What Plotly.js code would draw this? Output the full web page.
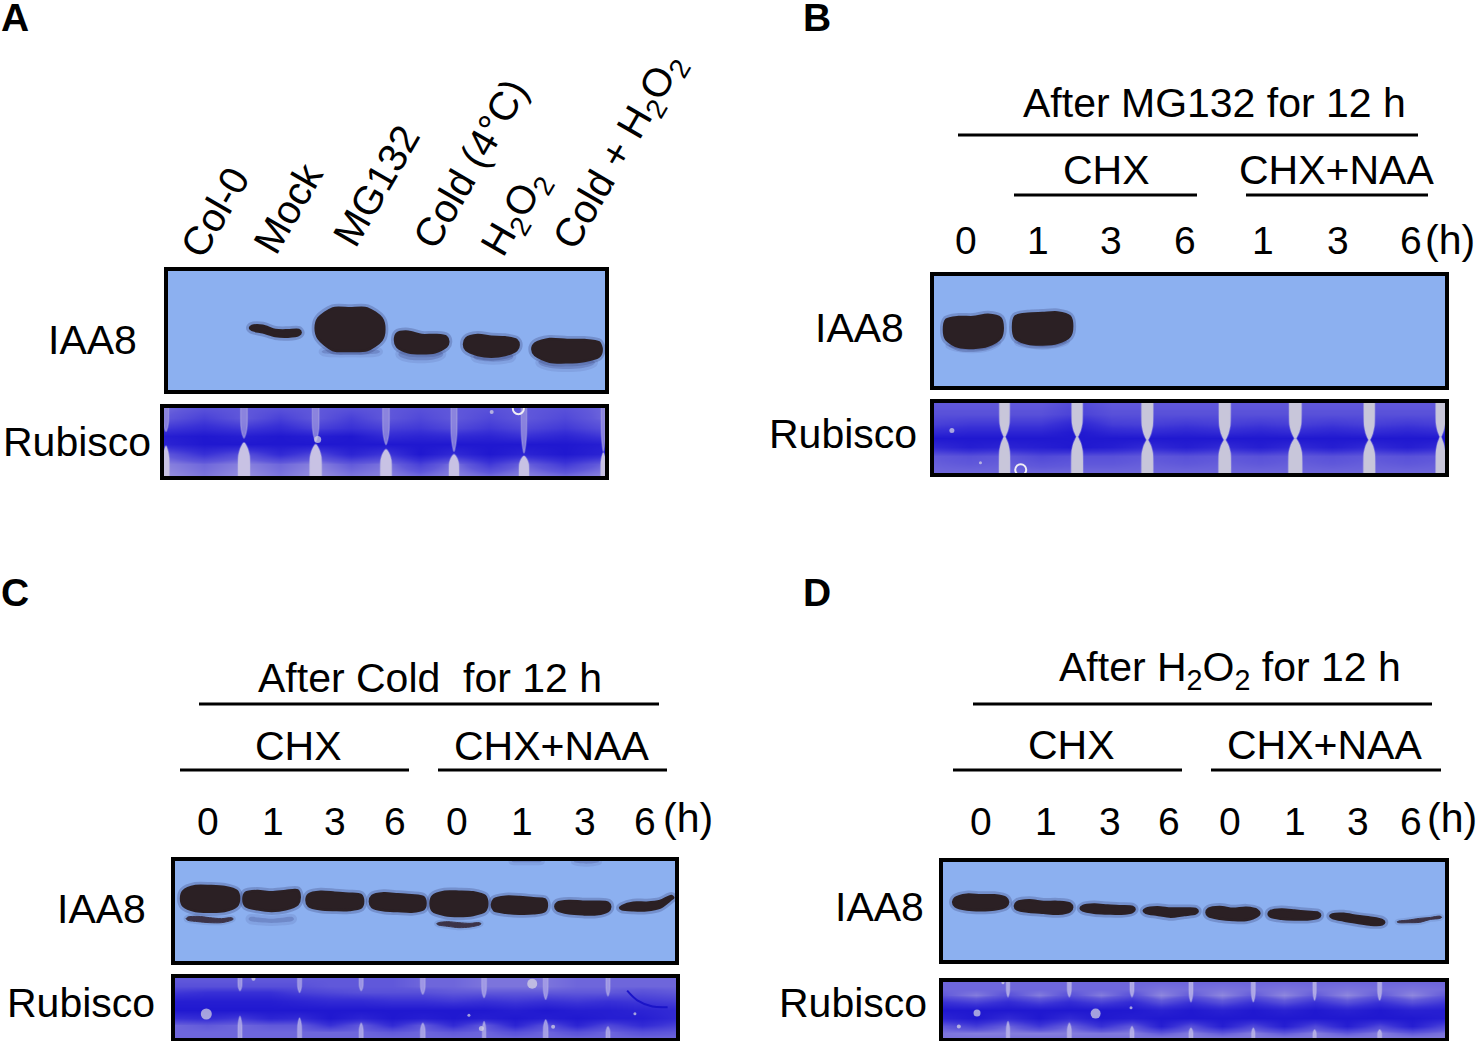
<!DOCTYPE html>
<html>
<head>
<meta charset="utf-8">
<script src="https://cdn.plot.ly/plotly-3.0.1.min.js"></script>
<style>body { margin: 0; background: #fff; }</style>
</head>
<body>
<div id="graph" style="width:1476px;height:1041px;"></div>
<script>
/* ----- Values (gel units: x along the gel, y down the gel) ------- */

// IAA8 bands: left end, right end, upper edge and lower edge at five points
const bandLeftA = [300, 497, 735, 942, 1147];
const bandRightA = [452, 703, 895, 1106, 1355];
const bandTopA = [[213,212,225,226,225], [190,160,160,160,190], [235,230,240,240,245], [250,240,245,247,255], [265,252,255,255,262]];
const bandBottomA = [[225,232,243,245,240], [250,285,288,285,255], [275,292,295,292,275], [285,300,305,300,285], [300,320,322,318,305]];
// faint shadows of the film around the strong bands
const ghostLeftA = [515, 745, 970, 1165];
const ghostRightA = [690, 880, 1090, 1335];
const ghostTopA = [[285,285,285,285,285], [290,290,292,292,290], [298,298,300,300,298], [315,318,318,316,315]];
const ghostBottomA = [[295,298,298,298,295], [305,314,316,314,305], [312,318,320,318,312], [330,340,342,340,330]];

const bandLeftB = [67, 268];
const bandRightB = [238, 440];
const bandTopB = [[180,172,172,165,175], [170,162,160,158,170]];
const bandBottomB = [[240,262,265,258,235], [235,252,255,250,230]];
const ghostLeftB = [80, 280];
const ghostRightB = [225, 425];
const ghostTopB = [[255,258,260,255,245], [245,250,252,248,240]];
const ghostBottomB = [[262,270,272,268,255], [252,258,262,258,250]];

const bandLeftC = [60, 245, 432, 620, 800, 982, 1170, 1362];
const bandRightC = [232, 412, 600, 785, 968, 1145, 1333, 1520];
const bandTopC = [[120,105,105,108,120], [125,120,124,120,118], [130,122,125,128,132], [135,127,130,133,138], [135,122,122,124,135], [145,137,138,142,145], [155,150,152,152,155], [165,155,155,150,135]];
const bandBottomC = [[165,180,182,180,165], [165,175,180,175,160], [165,175,177,177,170], [168,178,180,182,175], [180,192,195,192,180], [178,185,188,187,180], [178,187,190,190,180], [175,178,178,170,145]];
// the weaker lower band in two lanes of C
const lowerLeftC = [75, 818];
const lowerRightC = [215, 950];
const lowerTopC = [[198,196,200,203,200], [215,212,215,217,215]];
const lowerBottomC = [[208,212,215,215,208], [222,226,230,228,222]];
const ghostLeftC = [260, 1040, 1225];
const ghostRightC = [395, 1130, 1300];
const ghostTopC = [[198,200,203,200,198], [30,30,30,30,30], [30,30,30,30,30]];
const ghostBottomC = [[210,214,216,214,210], [33,34,34,34,33], [34,37,38,37,34]];

const bandLeftD = [67, 250, 445, 632, 818, 1002, 1185];
const bandRightD = [230, 420, 605, 792, 975, 1155, 1345];
const bandTopD = [[145,135,137,137,145], [158,152,157,157,162], [170,165,168,170,172], [178,173,177,177,178], [178,172,178,175,182], [185,180,183,187,190], [195,193,200,205,212]];
const bandBottomD = [[170,180,182,180,170], [180,187,190,193,185], [183,190,192,193,187], [190,196,202,197,192], [200,208,212,212,200], [202,208,210,210,205], [205,213,220,226,225]];
const lowerLeftD = [1383];
const lowerRightD = [1515];
const lowerTopD = [[215,212,207,204,200]];
const lowerBottomD = [[220,220,219,210,207]];

// Rubisco stain: darkness (0 pale, 1 deep blue) at lane boundaries and lane centres, down the gel
const rowsA = [462, 490, 520, 545, 570, 600, 630, 662];
const edgesA = [42, 282, 497, 708, 912, 1122, 1365];
const laneStainA = [
  [.6,.7,.85,1,1,.8,.5,.45], [.6,.7,.85,1,1,.85,.5,.45], [.6,.7,.8,1,1,.9,.55,.45],
  [.6,.65,.75,.9,1,1,.7,.5], [.6,.65,.75,.9,1,1,.75,.5], [.6,.65,.75,.9,1,1,.75,.5]
];
const edgeStainA = [
  [.5,.55,.75,.95,.9,.55,.4,.35], [.55,.55,.75,.95,1,.6,.4,.35], [.55,.55,.7,.95,1,.65,.4,.35],
  [.55,.55,.7,.85,1,.75,.45,.4], [.55,.55,.65,.85,1,.85,.45,.4], [.55,.55,.65,.8,1,.9,.5,.4], [.5,.5,.6,.75,.95,.9,.5,.4]
];

const rowsB = [428, 460, 490, 515, 535, 560, 590, 640];
const edgesB = [40, 245, 456, 660, 885, 1090, 1305, 1525];
const laneStainB = [
  [.55,.6,.75,.9,1,.95,.6,.5], [.55,.6,.75,.9,1,.95,.65,.5], [.55,.6,.72,.88,1,.95,.6,.5], [.55,.6,.75,.9,1,.95,.6,.5],
  [.55,.6,.75,.9,1,.95,.6,.5], [.55,.6,.75,.9,1,.95,.6,.5], [.55,.6,.75,.9,1,.95,.6,.5]
];
const edgeStainB = [
  [.55,.6,.7,.85,1,.85,.55,.5], [.55,.6,.75,.9,1,.9,.55,.5], [.65,.7,.9,1,1,1,.6,.5], [.55,.6,.7,.85,1,.85,.55,.5],
  [.55,.6,.7,.85,1,.85,.55,.5], [.55,.6,.7,.85,1,.85,.55,.5], [.55,.6,.7,.85,1,.85,.55,.5], [.55,.6,.7,.85,1,.85,.55,.5]
];

const rowsC = [385, 405, 425, 450, 475, 500, 520, 540, 558];
const edgesC = [42, 235, 412, 595, 778, 960, 1143, 1328, 1530];
const laneStainC = [
  [.55,.6,.8,.95,1,.85,.55,.5,.5], [.55,.6,.8,.95,1,.9,.55,.5,.5], [.55,.55,.65,.85,1,1,.8,.5,.5], [.55,.55,.6,.8,1,1,.85,.55,.5],
  [.5,.5,.55,.75,1,1,.85,.55,.5], [.45,.45,.55,.75,.95,1,.9,.6,.5], [.5,.5,.55,.75,.95,1,.9,.6,.5], [.5,.5,.6,.75,.9,.95,.85,.6,.5]
];
const edgeStainC = [
  [.55,.6,.75,.95,1,.8,.5,.5,.5], [.55,.6,.8,.95,1,.75,.5,.5,.5], [.55,.6,.7,.9,1,.85,.55,.5,.5], [.55,.55,.6,.85,1,.9,.55,.5,.5],
  [.5,.5,.6,.8,1,.95,.55,.5,.5], [.45,.45,.55,.8,1,.95,.55,.5,.5], [.45,.45,.55,.8,1,.95,.6,.5,.5], [.5,.5,.55,.8,.95,.95,.65,.5,.5], [.5,.5,.55,.7,.85,.85,.7,.55,.5]
];

const rowsD = [390, 410, 430, 450, 475, 500, 525, 545, 560];
const edgesD = [37, 230, 412, 598, 773, 958, 1140, 1333, 1527];
const laneStainD = [
  [.5,.5,.42,.7,1,1,.72,.42,.45], [.5,.5,.42,.7,1,1,.75,.42,.45], [.5,.5,.42,.7,1,1,.8,.45,.45], [.5,.45,.38,.6,.92,1,.95,.55,.42],
  [.5,.45,.38,.6,.92,1,.95,.55,.42], [.5,.45,.38,.6,.92,1,.95,.55,.42], [.5,.45,.38,.6,.92,1,.95,.55,.42], [.5,.45,.38,.6,.92,1,.95,.55,.42]
];
const edgeStainD = [
  [.5,.5,.55,.8,1,.9,.55,.45,.45], [.5,.5,.6,.85,1,.85,.5,.42,.45], [.5,.5,.6,.85,1,.85,.5,.42,.45], [.5,.5,.6,.85,1,.95,.55,.42,.45],
  [.5,.48,.55,.8,1,1,.6,.42,.42], [.5,.48,.55,.8,1,1,.65,.42,.42], [.5,.48,.55,.8,1,1,.65,.42,.42], [.5,.48,.55,.8,1,1,.65,.42,.42], [.5,.48,.55,.75,.95,.95,.65,.45,.42]
];

// pale strips between lanes: where they sit, how far they reach towards the band, half width
const stripXA = [48, 282, 497, 708, 912, 1122, 1360];
const tipTopA = [530, 550, 560, 570, 590, 595, 590];
const tipBottomA = [575, 565, 570, 585, 600, 605, 595];
const halfTopA = [8, 10, 10, 10, 9, 8, 6];
const halfBottomA = [10, 18, 18, 17, 15, 15, 8];

const stripXB = [245, 456, 660, 885, 1090, 1305, 1512];
const tipTopB = [530, 530, 540, 540, 535, 540, 530];
const tipBottomB = [530, 530, 540, 540, 535, 540, 530];
const halfTopB = [15, 16, 17, 17, 18, 16, 14];
const halfBottomB = [16, 17, 17, 18, 20, 17, 14];

const stripXC = [235, 412, 595, 778, 960, 1143, 1328];
const tipTopC = [420, 425, 420, 430, 440, 445, 435];
const tipBottomC = [495, 500, 515, 515, 510, 505, 525];
const halfTopC = [6, 6, 6, 7, 7, 7, 6];
const halfBottomC = [6, 6, 6, 7, 5, 7, 6];

const stripXD = [230, 412, 598, 773, 958, 1140, 1333];
const tipTopD = [435, 435, 435, 450, 450, 445, 445];
const tipBottomD = [510, 515, 525, 530, 530, 535, 535];
const halfTopD = [5, 6, 6, 6, 6, 5, 6];
const halfBottomD = [5, 6, 6, 6, 5, 5, 6];

// holes and specks in the stained membranes
const speckXA = [503, 1025], speckYA = [555, 472], speckSizeA = [7, 4];
const ringXA = [1105], ringYA = [462];
const speckXB = [92, 175], speckYB = [510, 610], speckSizeB = [5, 3];
const ringXB = [292], ringYB = [632];
const speckXC = [135, 1103, 275, 952, 1165, 915, 1408], speckYC = [488, 400, 385, 530, 525, 492, 487], speckSizeC = [11, 10, 4, 5, 4, 3, 3];
const speckXD = [138, 490, 84, 595, 215], speckYD = [484, 486, 525, 468, 392], speckSizeD = [7, 10, 4, 3, 3];
const smearXC = [1385, 1415, 1460, 1505], smearYC = [420, 448, 466, 468];

/* ----- Labels ------- */
const laneNamesA = ['Col-0', 'Mock', 'MG132', 'Cold (4°C)', 'H<sub>2</sub>O<sub>2</sub>', 'Cold + H<sub>2</sub>O<sub>2</sub>'];
const hoursB = ['0', '1', '3', '6', '1', '3', '6', '(h)'];
const hoursCD = ['0', '1', '3', '6', '0', '1', '3', '6', '(h)'];

const W = 1476, H = 1041;
const FONT = '"Liberation Sans", Arial, sans-serif';
const INK = '#2b2024';

function px(x) { return x / W; }
function py(y) { return 1 - y / H; }

/* ------ Band and stain helpers ------- */

function bandOutline(left, right, top, bottom) {
    var xs = [], ys = [];
    var f = [0.04, 0.25, 0.5, 0.75, 0.96];
    for (var b = 0; b < left.length; b++) {
        var span = right[b] - left[b];
        var t = top[b], u = bottom[b];
        xs.push(left[b]); ys.push((t[0] + u[0]) / 2);
        for (var i = 0; i < 5; i++) { xs.push(left[b] + f[i] * span); ys.push(t[i]); }
        xs.push(right[b]); ys.push((t[4] + u[4]) / 2);
        for (var j = 4; j >= 0; j--) { xs.push(left[b] + f[j] * span); ys.push(u[j]); }
        xs.push(left[b]); ys.push((t[0] + u[0]) / 2);
        xs.push(null); ys.push(null);
    }
    return { xs: xs, ys: ys };
}

function bandTraces(left, right, top, bottom, axisId, color, weak) {
    var o = bandOutline(left, right, top, bottom);
    var base = {
        type: 'scatter', mode: 'lines', x: o.xs, y: o.ys,
        xaxis: 'x' + axisId, yaxis: 'y' + axisId, hoverinfo: 'skip'
    };
    // soft glow first, the dark film mark on top
    return [
        Object.assign({}, base, { line: { color: 'rgba(30,30,80,' + (weak ? 0.1 : 0.22) + ')', width: weak ? 5 : 8, shape: 'spline', smoothing: 0.8 } }),
        Object.assign({}, base, { fill: 'toself', fillcolor: color, line: { color: color, width: weak ? 1 : 2.5, shape: 'spline', smoothing: 0.8 } })
    ];
}

function ghostTrace(left, right, top, bottom, axisId) {
    var o = bandOutline(left, right, top, bottom);
    return {
        type: 'scatter', mode: 'lines', x: o.xs, y: o.ys,
        xaxis: 'x' + axisId, yaxis: 'y' + axisId, hoverinfo: 'skip',
        fill: 'toself', fillcolor: 'rgba(70,80,145,0.3)',
        line: { color: 'rgba(70,80,145,0.14)', width: 6, shape: 'spline', smoothing: 0.8 }
    };
}

function stainTrace(rows, edges, laneStain, edgeStain, axisId) {
    var xs = [], columns = [];
    for (var g = 0; g < edges.length; g++) {
        xs.push(edges[g]);
        columns.push(edgeStain[g]);
        if (g < laneStain.length) {
            xs.push((edges[g] + edges[g + 1]) / 2);
            columns.push(laneStain[g]);
        }
    }
    var z = rows.map(function (_, r) {
        return columns.map(function (c) { return c[r]; });
    });
    return {
        type: 'heatmap', x: xs, y: rows, z: z,
        xaxis: 'x' + axisId, yaxis: 'y' + axisId,
        zmin: 0, zmax: 1, zsmooth: 'best', showscale: false, hoverinfo: 'skip',
        colorscale: [[0, '#d4d0e4'], [0.3, '#a59ee0'], [0.55, '#6058da'], [0.8, '#3830d6'], [1, '#2018d0']]
    };
}

// strips keep their width most of the way, then close quickly at the protein band
function stripTraces(stripX, tipTop, tipBottom, halfTop, halfBottom, edgeTop, edgeBottom, colorTop, colorBottom, axisId) {
    var along = [0, 0.6, 0.82, 0.95, 1];
    var width = [1, 0.95, 0.65, 0.3, 0.1];
    function wedge(yEdge, tip, half) {
        var xs = [], ys = [];
        stripX.forEach(function (g, k) {
            for (var i = 0; i < 5; i++) { xs.push(g - half[k] * width[i]); ys.push(yEdge + (tip[k] - yEdge) * along[i]); }
            for (var j = 4; j >= 0; j--) { xs.push(g + half[k] * width[j]); ys.push(yEdge + (tip[k] - yEdge) * along[j]); }
            xs.push(null); ys.push(null);
        });
        return { x: xs, y: ys };
    }
    return [[edgeTop, tipTop, halfTop, colorTop], [edgeBottom, tipBottom, halfBottom, colorBottom]].map(function (p) {
        var w = wedge(p[0], p[1], p[2]);
        return {
            type: 'scatter', mode: 'lines', x: w.x, y: w.y,
            xaxis: 'x' + axisId, yaxis: 'y' + axisId, hoverinfo: 'skip',
            fill: 'toself', fillcolor: p[3],
            line: { color: 'rgba(190,186,225,0.35)', width: 1.5, shape: 'spline', smoothing: 0.6 }
        };
    });
}

function speckTrace(xs, ys, sizes, axisId) {
    return {
        type: 'scatter', mode: 'markers', x: xs, y: ys,
        xaxis: 'x' + axisId, yaxis: 'y' + axisId,
        marker: { size: sizes, color: '#dcdae4', line: { width: 0 } },
        hoverinfo: 'skip'
    };
}

function ringTrace(xs, ys, axisId) {
    return {
        type: 'scatter', mode: 'markers', x: xs, y: ys,
        xaxis: 'x' + axisId, yaxis: 'y' + axisId,
        marker: { size: 11, color: 'rgba(0,0,0,0)', line: { width: 2, color: '#f0eef4' } },
        hoverinfo: 'skip'
    };
}

/* ------ Data traces ------- */

var data = [].concat(
    [ghostTrace(ghostLeftA, ghostRightA, ghostTopA, ghostBottomA, '')],
    bandTraces(bandLeftA, bandRightA, bandTopA, bandBottomA, '', INK),
    [stainTrace(rowsA, edgesA, laneStainA, edgeStainA, '2')],
    stripTraces(stripXA, tipTopA, tipBottomA, halfTopA, halfBottomA, 460, 665, 'rgba(150,142,222,0.8)', '#c8c2e4', '2'),
    [speckTrace(speckXA, speckYA, speckSizeA, '2'), ringTrace(ringXA, ringYA, '2')],

    [ghostTrace(ghostLeftB, ghostRightB, ghostTopB, ghostBottomB, '3')],
    bandTraces(bandLeftB, bandRightB, bandTopB, bandBottomB, '3', INK),
    [stainTrace(rowsB, edgesB, laneStainB, edgeStainB, '4')],
    stripTraces(stripXB, tipTopB, tipBottomB, halfTopB, halfBottomB, 425, 642, '#c8c6da', '#c8c6da', '4'),
    [speckTrace(speckXB, speckYB, speckSizeB, '4'), ringTrace(ringXB, ringYB, '4')],

    [ghostTrace(ghostLeftC, ghostRightC, ghostTopC, ghostBottomC, '5')],
    bandTraces(lowerLeftC, lowerRightC, lowerTopC, lowerBottomC, '5', '#3c3348', true),
    bandTraces(bandLeftC, bandRightC, bandTopC, bandBottomC, '5', INK),
    [stainTrace(rowsC, edgesC, laneStainC, edgeStainC, '6')],
    stripTraces(stripXC, tipTopC, tipBottomC, halfTopC, halfBottomC, 383, 558, 'rgba(170,162,232,0.8)', 'rgba(180,174,234,0.8)', '6'),
    [speckTrace(speckXC, speckYC, speckSizeC, '6'), {
        type: 'scatter', mode: 'lines', x: smearXC, y: smearYC, xaxis: 'x6', yaxis: 'y6',
        line: { color: '#1a14c8', width: 2, shape: 'spline' }, hoverinfo: 'skip'
    }],

    bandTraces(lowerLeftD, lowerRightD, lowerTopD, lowerBottomD, '7', '#3c3348', true),
    bandTraces(bandLeftD, bandRightD, bandTopD, bandBottomD, '7', INK),
    [stainTrace(rowsD, edgesD, laneStainD, edgeStainD, '8')],
    stripTraces(stripXD, tipTopD, tipBottomD, halfTopD, halfBottomD, 390, 560, 'rgba(190,184,234,0.8)', 'rgba(190,184,234,0.8)', '8'),
    [speckTrace(speckXD, speckYD, speckSizeD, '8')]
);

/* ------ Layout: one framed subplot per blot ------- */

function frame(left, right, top, bottom, x0, x1, y0, y1, anchor) {
    return [
        { domain: [px(left), px(right)], range: [x0, x1], anchor: 'y' + anchor, showline: true, mirror: true, linewidth: 4, linecolor: '#000', showgrid: false, zeroline: false, showticklabels: false, ticks: '', fixedrange: true },
        { domain: [py(bottom), py(top)], range: [y1, y0], anchor: 'x' + anchor, showline: true, mirror: true, linewidth: 4, linecolor: '#000', showgrid: false, zeroline: false, showticklabels: false, ticks: '', fixedrange: true }
    ];
}

var layout = {
    width: W, height: H,
    margin: { l: 0, r: 0, t: 0, b: 0 },
    paper_bgcolor: '#fff',
    plot_bgcolor: '#8cb0f0',
    showlegend: false,
    font: { family: FONT, color: '#000' },
    annotations: [],
    shapes: []
};

var frames = [
    frame(168, 605, 271, 390, 54, 1365, 48, 405, ''),
    frame(164, 605, 408, 476, 42, 1365, 460, 665, '2'),
    frame(934, 1445, 276, 386, 38, 1525, 48, 380, '3'),
    frame(934, 1445, 403, 473, 40, 1525, 425, 642, '4'),
    frame(175, 675, 861, 961, 42, 1525, 30, 330, '5'),
    frame(175, 676, 978, 1038, 42, 1530, 383, 558, '6'),
    frame(943, 1445, 862, 960, 37, 1525, 36, 333, '7'),
    frame(943, 1445, 982, 1038, 37, 1527, 390, 560, '8')
];
frames.forEach(function (f, i) {
    var id = i === 0 ? '' : String(i + 1);
    layout['xaxis' + id] = f[0];
    layout['yaxis' + id] = f[1];
});

function label(text, x, y, size, extra) {
    layout.annotations.push(Object.assign({
        text: text, xref: 'paper', yref: 'paper', x: px(x), y: py(y),
        xanchor: 'center', yanchor: 'middle', showarrow: false,
        font: { family: FONT, size: size || 41, color: '#000' }
    }, extra || {}));
}

function letter(text, x, y) {
    label(text, x, y, 39, { font: { family: FONT, size: 39, color: '#000', weight: 700 } });
}

function rule(x0, x1, y) {
    layout.shapes.push({
        type: 'line', xref: 'paper', yref: 'paper',
        x0: px(x0), x1: px(x1), y0: py(y), y1: py(y),
        line: { color: '#000', width: 3 }
    });
}

// panel letters
letter('A', 15, 18);
letter('B', 817, 18);
letter('C', 15, 592);
letter('D', 817, 592);

// panel A
var laneXA = [215, 288, 376, 470, 516, 620];
var laneYA = [212, 208, 186, 164, 214, 152];
laneNamesA.forEach(function (name, i) {
    label(name, laneXA[i], laneYA[i], 40, { textangle: -60 });
});
label('IAA8', 92, 340);
label('Rubisco', 77, 442);

// panel B
label('After MG132 for 12 h', 1214, 103);
rule(958, 1418, 135);
label('CHX', 1106, 170);
rule(1014, 1197, 195);
label('CHX+NAA', 1336, 170);
rule(1246, 1428, 195);
var hourXB = [966, 1038, 1111, 1185, 1263, 1338, 1411, 1450];
hoursB.forEach(function (h, i) { label(h, hourXB[i], 240, i === 7 ? 41 : 39); });
label('IAA8', 860, 328);
label('Rubisco', 843, 434);

// panel C
label('After Cold  for 12 h', 430, 678);
rule(199, 659, 704);
label('CHX', 298, 746);
rule(180, 409, 770);
label('CHX+NAA', 551, 746);
rule(438, 667, 770);
var hourXC = [208, 273, 335, 395, 457, 522, 585, 645, 688];
hoursCD.forEach(function (h, i) { label(h, hourXC[i], i === 8 ? 818 : 821, i === 8 ? 41 : 39); });
label('IAA8', 101, 909);
label('Rubisco', 81, 1003);

// panel D
label('After H<sub>2</sub>O<sub>2</sub> for 12 h', 1230, 670);
rule(973, 1432, 704);
label('CHX', 1071, 745);
rule(953, 1182, 770);
label('CHX+NAA', 1324, 745);
rule(1211, 1441, 770);
var hourXD = [981, 1046, 1110, 1169, 1230, 1295, 1358, 1411, 1452];
hoursCD.forEach(function (h, i) { label(h, hourXD[i], i === 8 ? 818 : 821, i === 8 ? 41 : 39); });
label('IAA8', 879, 907);
label('Rubisco', 853, 1003);

Plotly.newPlot('graph', data, layout, { displayModeBar: false, responsive: false });
</script>
</body>
</html>
